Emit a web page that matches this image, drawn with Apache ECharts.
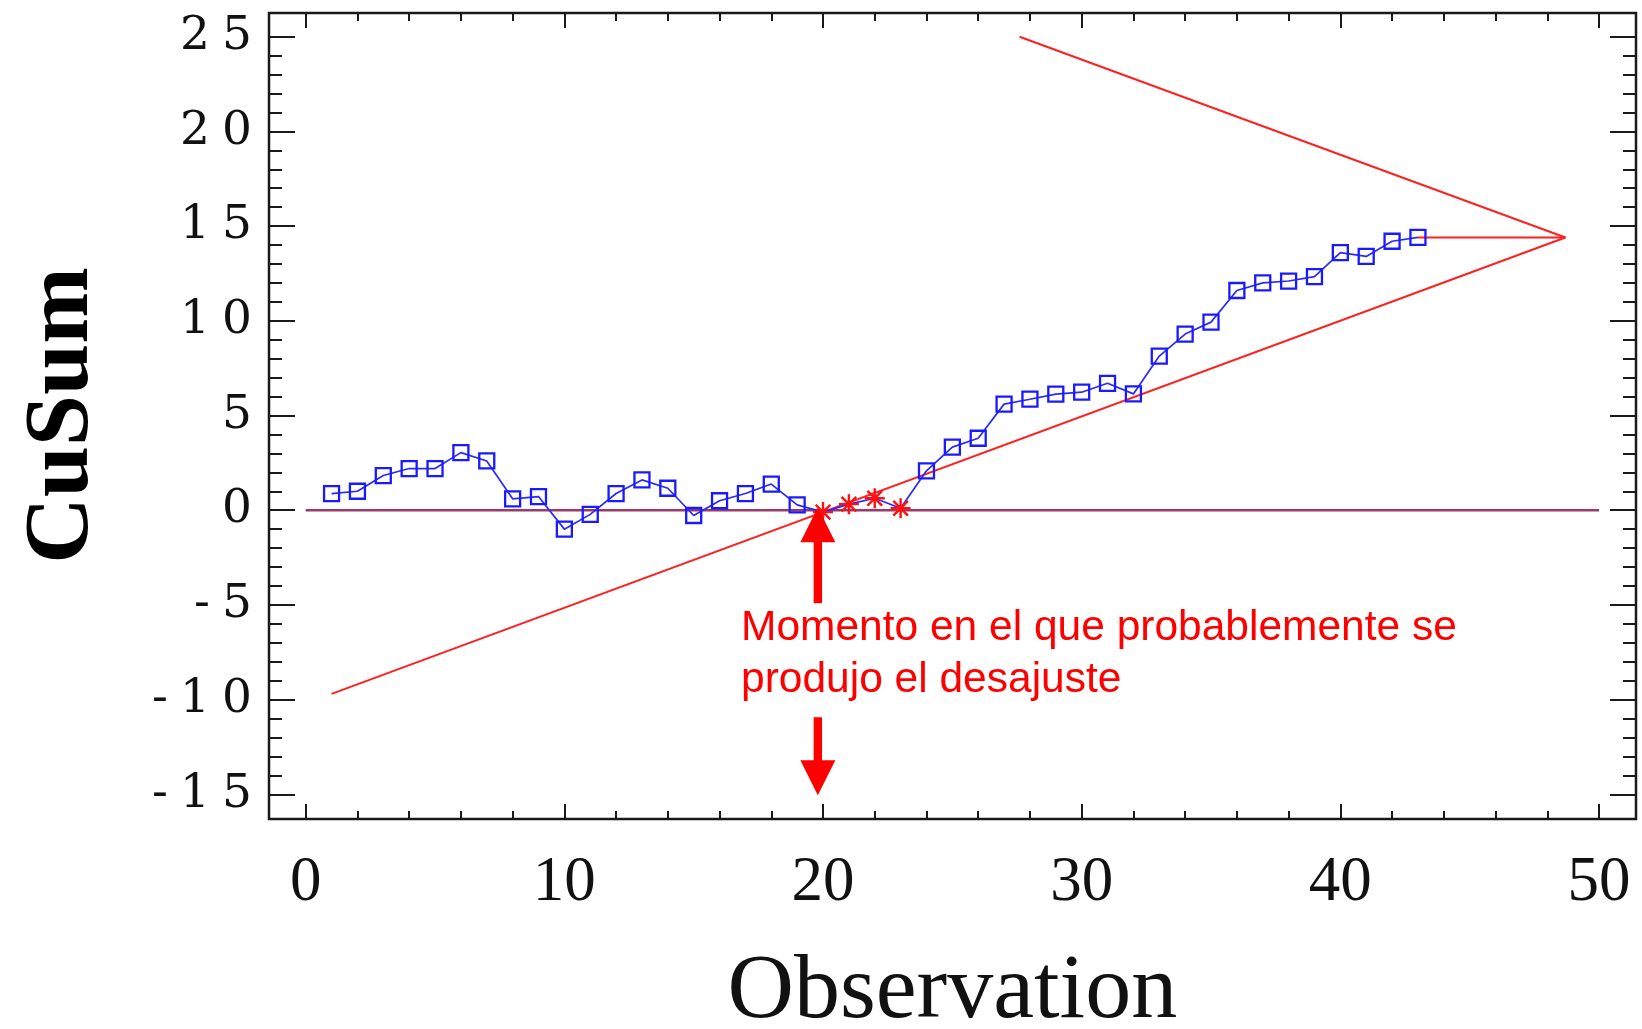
<!DOCTYPE html>
<html><head><meta charset="utf-8">
<script src="https://cdn.jsdelivr.net/npm/echarts@6/dist/echarts.min.js"></script>
<style>html,body{margin:0;padding:0;background:#fff}#c{width:1642px;height:1029px}</style>
</head><body><div id="c"></div>
<script>
// ---- data ----
const observations = [1,2,3,4,5,6,7,8,9,10,11,12,13,14,15,16,17,18,19,20,21,22,23,24,25,26,27,28,29,30,31,32,33,34,35,36,37,38,39,40,41,42,43];
const cusum = [0.88,1.0,1.83,2.2,2.2,3.04,2.6,0.6,0.72,-1.0,
               -0.22,0.88,1.6,1.16,-0.28,0.5,0.88,1.38,0.28,-0.1,
               0.32,0.63,0.1,2.08,3.33,3.8,5.6,5.86,6.13,6.23,
               6.7,6.14,8.14,9.3,9.93,11.6,12.0,12.1,12.33,13.6,
               13.4,14.2,14.4];
const flagged = [20,21,22,23];
const maskX = [1, 48.7, 27.6];
const maskY = [-9.7, 14.4, 25.0];
const leadX = [43, 48.7];
const leadY = [14.4, 14.4];
const zeroX = [0, 50];
const zeroY = [0, 0];
const xTicks = [0,10,20,30,40,50];
const yTicks = [-15,-10,-5,0,5,10,15,20,25];
const arrowObs = 19.8;
const arrowUpValue = 0;
const arrowDownValue = -15;
const noteLines = ['Momento en el que probablemente se', 'produjo el desajuste'];

// ---- layout ----
const GL = 305.7, GR = 1599, GT = 36.7, GB = 794.3;
const FL = 269, FR = 1636, FT = 13, FB = 819;
const W = 1642, H = 1029;
const ink = '#1a1a1a';
const starPath = 'path://M8.8,0H11.2V20H8.8Z M0,8.8H20V11.2H0Z M1.8,3.5L3.5,1.8L18.2,16.5L16.5,18.2Z M16.5,1.8L18.2,3.5L3.5,18.2L1.8,16.5Z';

const zip = (a, b) => a.map((v, i) => [v, b[i]]);

const cusumData = observations.map((o, i) => {
  if (flagged.indexOf(o) >= 0) {
    return { value: [o, cusum[i]], symbol: starPath, symbolSize: 20,
             itemStyle: { color: '#ff1010', borderWidth: 0 } };
  }
  return { value: [o, cusum[i]] };
});

const tickStyle = { color: ink, width: 2 };
const xCommon = {
  type: 'value', min: xTicks[0], max: xTicks[xTicks.length - 1], interval: 10,
  axisLine: { show: false, onZero: false },
  axisTick: { show: true, inside: true, length: 15, lineStyle: tickStyle },
  minorTick: { show: true, splitNumber: 5, length: 8, lineStyle: tickStyle },
  splitLine: { show: false }, minorSplitLine: { show: false }
};
const yCommon = {
  type: 'value', min: yTicks[0], max: yTicks[yTicks.length - 1], interval: 5,
  axisLine: { show: false, onZero: false },
  axisTick: { show: true, inside: true, length: 26, lineStyle: tickStyle },
  minorTick: { show: true, splitNumber: 5, length: 13, lineStyle: tickStyle },
  splitLine: { show: false }, minorSplitLine: { show: false }
};

const yLabelFmt = v => String(v).split('').map(c => c === '-' ? '{m|-}' : '{d|' + c + '}').join('');

const chart = echarts.init(document.getElementById('c'), null, { renderer: 'canvas' });
chart.setOption({
  animation: false,
  backgroundColor: '#ffffff',
  grid: { left: GL, right: W - GR, top: GT, bottom: H - GB, containLabel: false, outerBoundsMode: 'none' },
  xAxis: [
    Object.assign({}, xCommon, {
      position: 'bottom', offset: FB - GB,
      axisLabel: { show: true, margin: 33, fontSize: 63, fontFamily: 'Liberation Serif', color: '#111',
                   formatter: v => String(v) },
      name: 'Observation', nameLocation: 'middle', nameGap: 128,
      nameTextStyle: { fontSize: 92, fontFamily: 'Liberation Serif', color: '#111' }
    }),
    Object.assign({}, xCommon, { position: 'top', offset: GT - FT, axisLabel: { show: false } })
  ],
  yAxis: [
    Object.assign({}, yCommon, {
      position: 'left', offset: GL - FL,
      axisLabel: { show: true, margin: 11, formatter: yLabelFmt,
        rich: {
          d: { width: 42, align: 'center', fontSize: 47, fontFamily: 'DejaVu Serif', color: '#111' },
          m: { width: 28, align: 'center', fontSize: 47, fontFamily: 'DejaVu Serif', color: '#111' }
        } },
      name: 'CuSum', nameLocation: 'middle', nameGap: 160,
      nameTextStyle: { fontSize: 92, fontWeight: 'bold', fontFamily: 'Liberation Serif', color: '#000' }
    }),
    Object.assign({}, yCommon, { position: 'right', offset: FR - GR, axisLabel: { show: false } })
  ],
  series: [
    { type: 'line', name: 'zero', data: zip(zeroX, zeroY), symbol: 'none', silent: true,
      lineStyle: { color: '#9a3a6a', width: 2.5 }, z: 1 },
    { type: 'line', name: 'mask', data: zip(maskX, maskY), symbol: 'none', silent: true,
      lineStyle: { color: '#ff2020', width: 2 }, z: 2 },
    { type: 'line', name: 'lead', data: zip(leadX, leadY), symbol: 'none', silent: true,
      lineStyle: { color: '#ff2020', width: 2 }, z: 2 },
    { type: 'line', name: 'CuSum', data: cusumData, symbol: 'rect', symbolSize: 15, showSymbol: true,
      lineStyle: { color: '#2a2aff', width: 1.7 },
      itemStyle: { color: 'rgba(0,0,0,0)', borderColor: '#1a1aff', borderWidth: 2.3 }, z: 3 }
  ]
});

const pUp = chart.convertToPixel({ xAxisIndex: 0, yAxisIndex: 0 }, [arrowObs, arrowUpValue]);
const pDn = chart.convertToPixel({ xAxisIndex: 0, yAxisIndex: 0 }, [arrowObs, arrowDownValue]);
const ax = pUp[0], ty = pUp[1] - 3, by = pDn[1] + 1;
const hw = 17.5, sw = 4.2, hh = 35;
chart.setOption({
  graphic: [
    { type: 'rect', shape: { x: FL, y: FT, width: FR - FL, height: FB - FT },
      style: { fill: 'none', stroke: ink, lineWidth: 2.5 }, z: 10, silent: true },
    { type: 'polygon', shape: { points: [[ax, ty], [ax - hw, ty + hh], [ax - sw, ty + hh], [ax - sw, ty + 96],
        [ax + sw, ty + 96], [ax + sw, ty + hh], [ax + hw, ty + hh]] },
      style: { fill: '#ff0000' }, z: 20, silent: true },
    { type: 'polygon', shape: { points: [[ax, by], [ax - hw, by - hh], [ax - sw, by - hh], [ax - sw, by - 78],
        [ax + sw, by - 78], [ax + sw, by - hh], [ax + hw, by - hh]] },
      style: { fill: '#ff0000' }, z: 20, silent: true },
    { type: 'text', x: 741, y: 628, z: 20, silent: true,
      style: { text: noteLines[0], fill: '#ff0000', fontSize: 42.5, fontFamily: 'Liberation Sans',
               verticalAlign: 'middle', textVerticalAlign: 'middle' } },
    { type: 'text', x: 741, y: 680, z: 20, silent: true,
      style: { text: noteLines[1], fill: '#ff0000', fontSize: 42.5, fontFamily: 'Liberation Sans',
               verticalAlign: 'middle', textVerticalAlign: 'middle' } }
  ]
});
</script>
</body></html>
